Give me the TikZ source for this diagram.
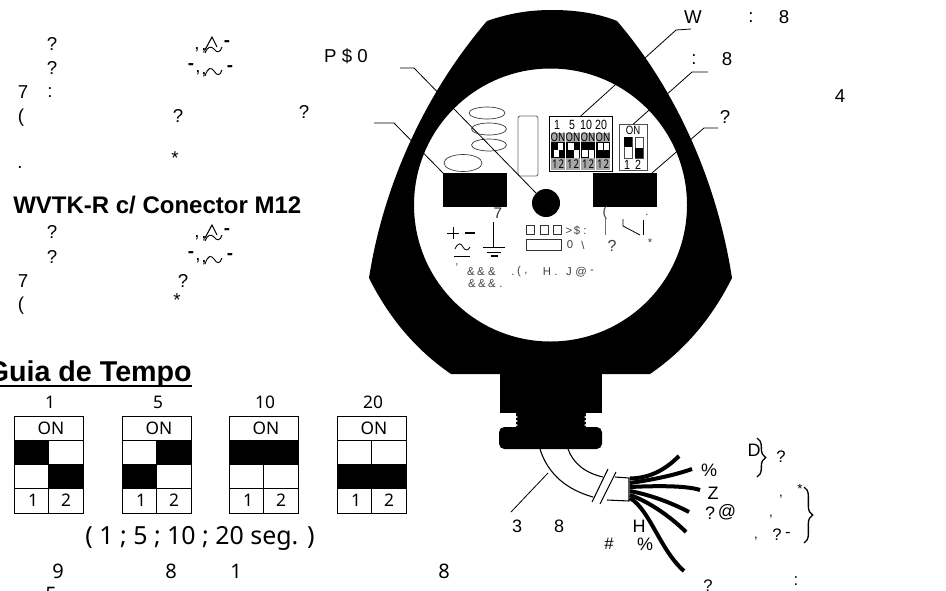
\documentclass[tikz,border=0pt]{standalone}
\usepackage{fontspec}
\setmainfont{Liberation Sans}
\newfontfamily\tahomaf{Noto Sans}
\usetikzlibrary{decorations.pathreplacing}
\tikzset{
  lb/.style={inner sep=0pt,font=\fontsize{14}{16}\selectfont},
  lbd/.style={inner sep=0pt,font=\fontsize{13.5}{15}\selectfont},
  lbe/.style={inner sep=0pt,font=\fontsize{12.5}{14}\selectfont},
  lbs/.style={inner sep=0pt,text=black!75,font=\fontsize{8.5}{10}\selectfont},
  lbt/.style={inner sep=0pt,font=\tahomaf\fontsize{13}{15}\selectfont},
  lbm/.style={inner sep=0pt,font=\tahomaf\fontsize{9}{10}\selectfont},
  lead/.style={draw=black,line width=0.6pt},
  wire/.style={draw=black,line width=3pt},
  cablel/.style={draw=black,line width=0.8pt},
  ell/.style={draw=black!80,line width=0.5pt},
  grid/.style={draw=black,line width=0.7pt},
  blk/.style={fill=black,draw=none},
  bracel/.style={line width=1pt,decorate,decoration={brace,amplitude=6.5pt}},
}
\newcommand{\nar}[1]{\scalebox{0.8}[1]{#1}}
\newcommand{\wavepair}{%
  \node[lb] (wa) at (197,50) {,};
  \node[lb] (wb) at (204,51) {,};
  \node[lb] (wc) at (227,44) {\textbf{-}};
  \draw[line width=0.8pt] (205,50) -- (212,37) -- (217,47);
  \draw[line width=0.7pt] (205,53) .. controls (208,46) and (211,46) .. (214,49) .. controls (217,53) and (220,53) .. (222,47);
  \node[lb] (wd) at (191,67) {\textbf{-}};
  \node[lb] (we) at (198,73) {,};
  \node[lb] (wf) at (204,75) {,};
  \node[lb] (wg) at (230,69) {\textbf{-}};
  \draw[line width=0.7pt] (205,76) .. controls (208,67) and (211,67) .. (214,71) .. controls (217,76) and (220,76) .. (222,70);
}
\newcommand{\dipbox}[6]{%
  \begin{scope}[shift={(#1,0)}]
    \ifnum#2=1 \fill[black] (0,440) rectangle (35,464);\fi
    \ifnum#3=1 \fill[black] (34,440) rectangle (69,464);\fi
    \ifnum#4=1 \fill[black] (0,464) rectangle (35,488);\fi
    \ifnum#5=1 \fill[black] (34,464) rectangle (69,488);\fi
    \draw[grid] (0,416) rectangle (69,513);
    \draw[grid] (0,440) -- (69,440);
    \draw[grid] (0,488) -- (69,488);
    \draw[grid] (0,464) -- (69,464);
    \draw[grid] (34.5,440) -- (34.5,513);
    \node[lbt] at (37,428) {ON};
    \node[lbt] at (19,500) {1};
    \node[lbt] at (52,500) {2};
    \node[lbt] at (36,402) {#6};
  \end{scope}}
\newcommand{\minisw}[3]{%
  \begin{scope}[shift={(#1,0)}]
    \fill[black!35] (0,133) rectangle (14,170);
    \fill[black] (0,142) rectangle (14,158);
    \fill[white] ({#2},{#3}) rectangle ({#2+5.5},{#3+7});
    \node[lbm,text=black] at (7,137.5) {\nar{ON}};
    \node[lbm,text=black] at (3.8,164) {\nar{1}};
    \node[lbm,text=black] at (10.4,164) {\nar{2}};
  \end{scope}}
\begin{document}
\begin{tikzpicture}[x=0.75pt,y=-0.75pt]
\useasboundingbox (0,0) rectangle (946,590);
% ---------- body
\fill[black,even odd rule]
  (487,21) .. controls (510,13) and (530,10) .. (552,10)
  .. controls (575,10) and (597,13) .. (617,21)
  .. controls (672,85) and (716,175) .. (732,278)
  .. controls (712,318) and (685,350) .. (650,374)
  -- (451,374)
  .. controls (416,350) and (389,318) .. (369,278)
  .. controls (385,175) and (432,85) .. (487,21) -- cycle
  (550.5,205) circle[radius=136.5];
\fill[black] (500,373) rectangle (602,413);
\fill[black] (516,412) rectangle (586,428);
\fill[black,rounded corners=4pt] (499,427) rectangle (602,449);
\foreach \yy in {415,419,423}{
  \fill[white] (514,\yy) -- (518,\yy+2) -- (514,\yy+4) -- cycle;
  \fill[white] (588,\yy) -- (584,\yy+2) -- (588,\yy+4) -- cycle;}
% ---------- disc parts
\draw[ell] (487,113) ellipse[x radius=18,y radius=6];
\draw[ell] (489,129) ellipse[x radius=17.5,y radius=6];
\draw[ell] (489,145) ellipse[x radius=17.5,y radius=6];
\draw[ell] (463,163) ellipse[x radius=19,y radius=8.5];
\draw[draw=black!60,line width=0.6pt,rounded corners=1.5pt] (518,116) rectangle (538,176);
\node[blk,minimum width=48pt,minimum height=25.5pt,inner sep=0pt,anchor=north west] (lrect) at (443,173) {};
\node[blk,minimum width=47.5pt,minimum height=25.5pt,inner sep=0pt,anchor=north west] (rrect) at (593,173) {};
\node[blk,circle,minimum size=21pt,inner sep=0pt] (dot) at (546,203) {};
\node[draw=black,line width=0.6pt,fill=white,minimum width=47pt,minimum height=41pt,inner sep=0pt,anchor=north west] (swa) at (549,116) {};
\node[draw=black!70,line width=0.6pt,fill=white,minimum width=21pt,minimum height=34.5pt,inner sep=0pt,anchor=north west] (swb) at (619,124) {};
\foreach \xx/\tt in {557/1,572/5,586/10,601/20}{\node[lbm,font=\fontsize{10}{11}\selectfont] at (\xx,125) {\nar{\tt}};}
\minisw{551}{2.5}{150}
\minisw{566}{2}{142.5}
\fill[white] (574,150) rectangle (579,158);
\minisw{581}{1}{150}
\fill[white] (589,150) rectangle (594,158);
\minisw{596}{1.5}{143}
\fill[white] (604,143) rectangle (609,150);
\fill[white] (558,143) rectangle (563,150);
\node[lbm,font=\fontsize{9}{10}\selectfont] at (633,130) {\nar{ON}};
\draw[draw=black!70,line width=0.5pt] (624,137) rectangle (632,158);
\fill[black] (624,137) rectangle (632,147);
\draw[draw=black!70,line width=0.5pt] (635,137) rectangle (643,158);
\fill[black] (635,148) rectangle (643,158);
\node[lbm,font=\fontsize{10}{11}\selectfont] at (627,165) {\nar{1}};
\node[lbm,font=\fontsize{10}{11}\selectfont] at (638,165) {\nar{2}};
% ---------- leaders
\coordinate (pa) at (400,68); \coordinate (pb) at (414,68);
\draw[lead] (pa) -- (pb) -- (dot.135);
\coordinate (la) at (374,123); \coordinate (lb) at (394,123);
\draw[lead] (la) -- (lb) -- (lrect.north west);
\coordinate (ra) at (718,128); \coordinate (rb) at (704,128); \coordinate (rc) at (652,173);
\draw[lead] (ra) -- (rb) -- (rc);
\coordinate (wa1) at (691,29); \coordinate (wb1) at (676,30);
\draw[lead] (wa1) -- (wb1) -- (swa.north);
\coordinate (ca) at (708,72); \coordinate (cb) at (692,72);
\draw[lead] (ca) -- (cb) -- (swb.north);
\coordinate (ka) at (511,512); \coordinate (kb) at (548,473);
\draw[lead] (ka) -- (kb);
% ---------- cable
\draw[cablel] (540,449) .. controls (548,475) and (568,490) .. (593,497);
\draw[cablel] (568,449) .. controls (573,463) and (585,473) .. (603,477);
\draw[cablel] (608,469) -- (592,502);
\draw[cablel] (616,472) -- (600,504);
\draw[cablel] (615,477) -- (629,478) -- (629,501) -- (607,500);
\draw[wire] (630,478.5) .. controls (650,478) and (665,470) .. (679,456);
\draw[wire] (630,483) .. controls (650,480) and (672,476) .. (692,469);
\draw[wire] (630,487) .. controls (650,486) and (685,485) .. (700,490);
\draw[wire] (630,491) .. controls (650,495) and (670,502) .. (689,512);
\draw[wire] (630,495) .. controls (650,502) and (672,518) .. (686,532);
\draw[wire] (630,498) .. controls (650,510) and (660,550) .. (684,571);
% ---------- disc symbols
\node[lb,font=\fontsize{11.5}{13}\selectfont,text=black!80] (t7) at (498,213) {7};
\draw[line width=0.5pt] (447,233) -- (459,233) (453,227) -- (453,239);
\draw[line width=1pt] (465,233) -- (475,233);
\draw[line width=0.6pt] (455,249) .. controls (458,242) and (461,243) .. (463,247) .. controls (465,251) and (468,251) .. (470,247);
\draw[line width=0.6pt] (454,256) -- (470,256);
\draw[line width=0.6pt] (493,222) -- (493,247);
\draw[line width=0.6pt] (483,247) -- (505,247) (487,252) -- (501,252);
\draw[line width=0.9pt] (491,256) -- (498,256);
\foreach \xx in {526,540,553}{\draw[line width=0.6pt,black!80] (\xx,225) rectangle (\xx+8,234);}
\draw[line width=0.6pt,black!80] (526,239) rectangle (561,250);
\node[lbs] at (569,231) {>};
\node[lbs] at (577,231) {\$};
\node[lbs] at (585,231) {:};
\node[lbs] at (570,245) {0};
\node[lbs] at (583,245) {\textbackslash};
\node[lbs,font=\fontsize{10.5}{12}\selectfont] at (605,213) {(};
\draw[line width=0.7pt,black!55] (605,218) -- (605,235);
\draw[line width=0.6pt] (623,219) -- (623,226) -- (640,235);
\draw[line width=0.6pt] (643,220) -- (643,235);
\node[lbs] at (647,215) {.};
\node[lbs,font=\fontsize{12}{13}\selectfont] at (612,246) {?};
\node[lbs] at (650,243) {*};
\node[lbs] at (457,268) {'};
\node[lbs] at (471,272) {\&};
\node[lbs] at (481,272) {\&};
\node[lbs] at (492,272) {\&};
\node[lbs] at (513,275) {.};
\node[lbs] at (519,272) {(};
\node[lbs] at (526,274) {,};
\node[lbs] at (547,272) {H};
\node[lbs] at (556,275) {.};
\node[lbs] at (569,272) {J};
\node[lbs] at (581,272) {@};
\node[lbs] at (592,272) {-};
\node[lbs] at (472,284) {\&};
\node[lbs] at (482,284) {\&};
\node[lbs] at (492,284) {\&};
\node[lbs] at (501,287) {.};
% ---------- left text block
\node[lb] (a1) at (52,44) {?};
\node[lb] (a2) at (52,68) {?};
\node[lb] (a3) at (23,92) {7};
\node[lb] (a4) at (50,93) {:};
\node[lb] (a5) at (21,118) {(};
\node[lb] (a6) at (178,116) {?};
\node[lb] (a7) at (304,112) {?};
\node[lb] (a8) at (175,158) {*};
\node[lb] (a9) at (20,167) {.};
\node[lb] (a10) at (346,56) {P \$ 0};
\wavepair
\begin{scope}[shift={(0,188)}]\wavepair\end{scope}
\node[inner sep=0pt,anchor=west,font=\bfseries\fontsize{18}{20}\selectfont] (title) at (13,205) {WVTK-R c/ Conector M12};
\node[lb] (b1) at (52,232) {?};
\node[lb] (b2) at (52,257) {?};
\node[lb] (b3) at (23,281) {7};
\node[lb] (b4) at (183,281) {?};
\node[lb] (b5) at (21,306) {(};
\node[lb] (b6) at (177,300) {*};
% ---------- Guia de Tempo
\node[inner sep=0pt,anchor=base east,font=\bfseries\fontsize{21.5}{24}\selectfont] (guia) at (192,381) {Guia de Tempo};
\fill[black] (0,385) rectangle (192,387);
\dipbox{14}{1}{0}{0}{1}{1}
\dipbox{122}{0}{1}{1}{0}{5}
\dipbox{229}{1}{1}{0}{0}{10}
\dipbox{337}{0}{0}{1}{1}{20}
\node[lbt,font=\tahomaf\fontsize{18.7}{21}\selectfont] (segs) at (200,538) {( 1 ; 5 ; 10 ; 20 seg. )};
\node[lbt,font=\tahomaf\fontsize{15}{17}\selectfont] (c1) at (58,571) {9};
\node[lbt,font=\tahomaf\fontsize{15}{17}\selectfont] (c2) at (171,571) {8};
\node[lbt,font=\tahomaf\fontsize{15}{17}\selectfont] (c3) at (236,571) {1};
\node[lbt,font=\tahomaf\fontsize{15}{17}\selectfont] (c4) at (444,571) {8};
\node[lbt,font=\tahomaf\fontsize{15}{17}\selectfont] (c5) at (51,594) {5};
% ---------- right labels
\node[lb] (r1) at (693,17) {W};
\node[lb] (r2) at (751,18) {:};
\node[lb] (r3) at (784,17) {8};
\node[lb] (r4) at (694,60) {:};
\node[lb] (r5) at (727,59) {8};
\node[lb] (r6) at (840,96) {4};
\node[lb] (r7) at (725,117) {?};
\node[lbd] (d1) at (754,450) {D};
\node[lbe] (d2) at (781,457) {?};
\draw[bracel] (757,438) -- (757,477);
\node[lbd] (d3) at (709,470) {\%};
\node[lbd] (d4) at (713,493) {Z};
\node[lbd] (d5) at (710,513) {?};
\node[lbd] (d6) at (727,512) {@};
\node[lbd] (d7) at (517,526) {3};
\node[lbd] (d8) at (559,526) {8};
\node[lbd] (d9) at (639,526) {H};
\node[lbe] (d10) at (609,544) {\#};
\node[lbd] (d11) at (645,544) {\%};
\node[lb,font=\fontsize{10}{11}\selectfont] (e1) at (781,497) {,};
\node[lb,font=\fontsize{10}{11}\selectfont] (e2) at (800,489) {*};
\node[lb,font=\fontsize{10}{11}\selectfont] (e3) at (771,517) {,};
\node[lb,font=\fontsize{10}{11}\selectfont] (e4) at (756,539) {,};
\node[lbe] (e5) at (777,535) {?};
\node[lbe] (e6) at (788,535) {-};
\draw[bracel] (804,487) -- (804,543);
\node[lbe] (f1) at (708,586) {?};
\node[lbe] (f2) at (796,581) {:};
\end{tikzpicture}
\end{document}
